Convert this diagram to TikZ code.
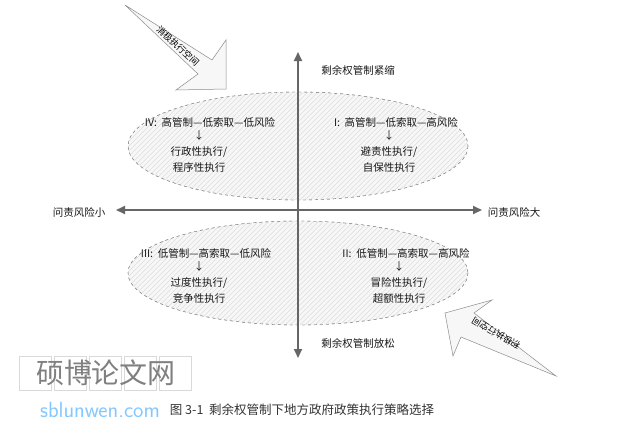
\documentclass[tikz,border=0pt]{standalone}
\usepackage{fontspec}
\newfontfamily\cjk{Noto Sans CJK SC}
\usetikzlibrary{arrows.meta}
\begin{document}
\begin{tikzpicture}[x=1pt,y=-1pt,
  ax/.style={draw=black!60,line width=1.8pt,-{Triangle[length=9pt,width=8pt]}},
  ell/.style={draw=black!45,dashed,fill=black!3},
  qtext/.style={font=\cjk\fontsize{10.5}{16}\selectfont,align=center,text=black!90},
  lab/.style={font=\cjk\fontsize{10.5}{13}\selectfont,text=black!90},
  hatch/.style={draw=black!13,line width=0.4pt},
  bigarrow/.style={draw=black!45,fill=black!3,line width=0.5pt}]
\useasboundingbox (0,0) rectangle (630,426);
\fill[white] (0,0) rectangle (630,426);
% ellipses
\path[ell] (298,146) ellipse [x radius=170,y radius=54];
\begin{scope}
\clip (298,146) ellipse [x radius=170,y radius=54];
\foreach \i in {0,5,...,500} {\draw[hatch] (\i,210) -- (\i+130,80);}
\end{scope}
\path[ell] (298,273) ellipse [x radius=170,y radius=52];
\begin{scope}
\clip (298,273) ellipse [x radius=170,y radius=52];
\foreach \i in {0,5,...,500} {\draw[hatch] (\i,335) -- (\i+130,205);}
\end{scope}
\draw[black!45,dashed] (298,146) ellipse [x radius=170,y radius=54];
\draw[black!45,dashed] (298,273) ellipse [x radius=170,y radius=52];
% axes
\coordinate (vc) at (298,210);
\coordinate (vt) at (298,52);
\coordinate (vb) at (298,358);
\coordinate (hl) at (116,210);
\coordinate (hr) at (482,210);
\draw[ax] (vc) -- (vt);
\draw[ax] (vc) -- (vb);
\draw[ax] (vc) -- (hl);
\draw[ax] (vc) -- (hr);
\node[lab] (tl) at (358,70) {剩余权管制紧缩};
\node[lab] (bl) at (358,343) {剩余权管制放松};
\node[lab] (ll) at (79,212) {问责风险小};
\node[lab] (rl) at (514,212) {问责风险大};
% quadrant texts
\node[qtext,anchor=north] (q1) at (396,114) {I:\ \ 高管制—低索取—高风险\\[-3pt]\hspace*{-14pt}↓\\\hspace*{-14pt}避责性执行/\\\hspace*{-14pt}自保性执行};
\node[qtext,anchor=north] (q4) at (210,114) {IV:\ \ 高管制—低索取—低风险\\[-3pt]\hspace*{-22pt}↓\\\hspace*{-22pt}行政性执行/\\\hspace*{-22pt}程序性执行};
\node[qtext,anchor=north] (q3) at (206,245) {III:\ \ 低管制—高索取—低风险\\[-3pt]\hspace*{-14pt}↓\\\hspace*{-14pt}过度性执行/\\\hspace*{-14pt}竞争性执行};
\node[qtext,anchor=north] (q2) at (406,245) {II:\ \ 低管制—高索取—高风险\\[-3pt]\hspace*{-14pt}↓\\\hspace*{-14pt}冒险性执行/\\\hspace*{-14pt}超额性执行};
% big arrows
\draw[bigarrow] (125,5) -- (212,60) -- (226,40) -- (226,89) -- (176,90) -- (198,74) -- cycle;
\draw[bigarrow] (556,376) -- (474,313) -- (492,300) -- (445,313) -- (453,356) -- (461,337) -- cycle;
\begin{scope}[y=1pt]
\node[font=\cjk\fontsize{9}{10}\selectfont,rotate=-43,inner sep=0pt] (a1) at (178,-46) {消极执行空间};
\node[font=\cjk\fontsize{9}{10}\selectfont,rotate=150,inner sep=0pt] (a2) at (496,-333) {积极执行空间};
\end{scope}
% watermark and caption
\foreach \k in {0,1,2,3,4} {\draw[black!15,line width=0.4pt] (19+\k*35,356) rectangle ++(32,34);}
\node[font=\cjk\fontsize{28}{28}\selectfont,text=black!50] (wm) at (106,373) {硕博论文网};
\node[font=\sffamily\fontsize{22}{22}\selectfont,text=blue!45!cyan!60,opacity=0.8] (wm2) at (100,410) {sblunwen.com};
\node[font=\cjk\fontsize{12.5}{14}\selectfont,text=black!80] (cap) at (302,410) {图 3-1\ \ 剩余权管制下地方政府政策执行策略选择};
\end{tikzpicture}
\end{document}
